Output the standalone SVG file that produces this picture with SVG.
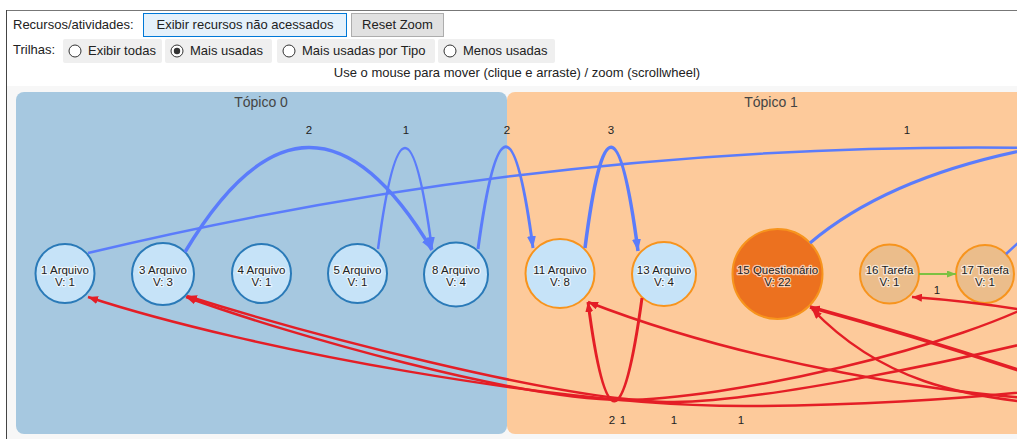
<svg xmlns="http://www.w3.org/2000/svg" width="1017" height="439" viewBox="0 0 1017 439">
<defs>
<style>
text{font-family:"Liberation Sans",Arial,sans-serif}
.ui{font-size:13px;fill:#222}
.btn1{fill:#e5f1fb;stroke:#0078d7;stroke-width:1}
.btn2{fill:#e1e1e1;stroke:#adadad;stroke-width:1}
.rbox{fill:#efefef}
.radio{fill:#fff;stroke:#333;stroke-width:1}
.title{font-size:14px;fill:#444;text-anchor:middle}
.n{stroke-width:2}
.t0{fill:#c6e3f8;stroke:#2a7ab8}
.t1{fill:#c6e3f8;stroke:#f7941d}
.q{fill:#ec711f;stroke:#f7941d}
.ta{fill:#ebbd8b;stroke:#f7941d}
.nl{font-size:11.5px;fill:#222;text-anchor:middle;stroke:#fff;stroke-width:2.5;stroke-opacity:.65;paint-order:stroke;stroke-linejoin:round}
.el{font-size:11.5px;fill:#222;text-anchor:middle}
.b{fill:none;stroke:#5b7cfb}
.r{fill:none;stroke:#e41e26}
.g{fill:none;stroke:#7cc142;stroke-width:2}
</style>
<marker id="ab" viewBox="0 0 12 9" refX="12" refY="4.5" markerWidth="12" markerHeight="9" markerUnits="userSpaceOnUse" orient="auto"><path d="M0,0L12,4.5L0,9z" fill="#5b7cfb"/></marker>
<marker id="ar" viewBox="0 0 10 8" refX="10" refY="4" markerWidth="10" markerHeight="8" markerUnits="userSpaceOnUse" orient="auto"><path d="M0,0L10,4L0,8z" fill="#e41e26"/></marker>
<marker id="ag" viewBox="0 0 9 7" refX="9" refY="3.5" markerWidth="9" markerHeight="7" markerUnits="userSpaceOnUse" orient="auto"><path d="M0,0L9,3.5L0,7z" fill="#7cc142"/></marker>
</defs>
<rect x="0" y="0" width="1017" height="439" fill="#fff"/>
<rect x="6" y="86" width="1011" height="353" fill="#f7f7f7"/>
<line x1="6" y1="10.5" x2="1017" y2="10.5" stroke="#777" stroke-width="1"/>
<line x1="6.5" y1="10" x2="6.5" y2="439" stroke="#444" stroke-width="1"/>
<g id="controls">
<text class="ui" x="13" y="29">Recursos/atividades:</text>
<rect class="btn1" x="143.5" y="13.5" width="203" height="23"/>
<text class="ui" x="245" y="29" text-anchor="middle">Exibir recursos não acessados</text>
<rect class="btn2" x="351.5" y="13.5" width="92" height="23"/>
<text class="ui" x="397.5" y="29" text-anchor="middle">Reset Zoom</text>
<text class="ui" x="13" y="54">Trilhas:</text>
<rect class="rbox" x="63" y="39" width="99" height="24" rx="2"/>
<rect class="rbox" x="165" y="39" width="107" height="24" rx="2"/>
<rect class="rbox" x="277" y="39" width="158" height="24" rx="2"/>
<rect class="rbox" x="438" y="39" width="117" height="24" rx="2"/>
<circle class="radio" cx="75" cy="51" r="6"/>
<circle class="radio" cx="177" cy="51" r="6"/>
<circle cx="177" cy="51" r="3.2" fill="#333"/>
<circle class="radio" cx="289" cy="51" r="6"/>
<circle class="radio" cx="450" cy="51" r="6"/>
<text class="ui" x="88" y="55">Exibir todas</text>
<text class="ui" x="190" y="55">Mais usadas</text>
<text class="ui" x="302" y="55">Mais usadas por Tipo</text>
<text class="ui" x="463" y="55">Menos usadas</text>
<text class="ui" x="517" y="77" text-anchor="middle">Use o mouse para mover (clique e arraste) / zoom (scrollwheel)</text>
</g>
<g id="topico0">
<rect x="16" y="92" width="491" height="342" rx="8" fill="#a6c8e0"/>
<text class="title" x="261" y="107">Tópico 0</text>
</g>
<g id="topico1">
<rect x="507" y="92" width="540" height="342" rx="8" fill="#fdca9b"/>
<text class="title" x="771" y="107">Tópico 1</text>
</g>
<g id="n1"><circle class="n t0" cx="65" cy="273.5" r="29.5"/><text class="nl" x="65" y="274">1 Arquivo</text><text class="nl" x="65" y="286">V: 1</text></g>
<g id="n3"><circle class="n t0" cx="163" cy="274" r="31"/><text class="nl" x="163" y="274">3 Arquivo</text><text class="nl" x="163" y="286">V: 3</text></g>
<g id="n4"><circle class="n t0" cx="261.5" cy="273.5" r="29.5"/><text class="nl" x="261.5" y="274">4 Arquivo</text><text class="nl" x="261.5" y="286">V: 1</text></g>
<g id="n5"><circle class="n t0" cx="357.5" cy="273.5" r="29.5"/><text class="nl" x="357.5" y="274">5 Arquivo</text><text class="nl" x="357.5" y="286">V: 1</text></g>
<g id="n8"><circle class="n t0" cx="456" cy="274.5" r="32"/><text class="nl" x="456" y="274">8 Arquivo</text><text class="nl" x="456" y="286">V: 4</text></g>
<g id="n11"><circle class="n t1" cx="560" cy="273.5" r="34.5"/><text class="nl" x="560" y="274">11 Arquivo</text><text class="nl" x="560" y="286">V: 8</text></g>
<g id="n13"><circle class="n t1" cx="664" cy="274" r="32"/><text class="nl" x="664" y="274">13 Arquivo</text><text class="nl" x="664" y="286">V: 4</text></g>
<g id="n15"><circle class="n q" cx="777.5" cy="274" r="45"/><text class="nl" x="777.5" y="274">15 Questionário</text><text class="nl" x="777.5" y="286">V: 22</text></g>
<g id="n16"><circle class="n ta" cx="889.5" cy="274" r="29.5"/><text class="nl" x="889.5" y="274">16 Tarefa</text><text class="nl" x="889.5" y="286">V: 1</text></g>
<g id="n17"><circle class="n ta" cx="985" cy="274" r="29"/><text class="nl" x="985" y="274">17 Tarefa</text><text class="nl" x="985" y="286">V: 1</text></g>
<g id="connectors">
<path class="b" stroke-width="2.5" d="M88,253 Q560,140 1040,148"/>
<path class="b" stroke-width="3" d="M810,243 Q890,175 1040,147"/>
<path class="b" stroke-width="2.5" d="M1006,254 L1030,232"/>
<path class="b" stroke-width="3.5" marker-end="url(#ab)" d="M185,252 Q309,44 432,250"/>
<path class="b" stroke-width="2.5" marker-end="url(#ab)" d="M378,249 Q405,47 432,249"/>
<path class="b" stroke-width="3" marker-end="url(#ab)" d="M478,249 Q506,45 533,248"/>
<path class="b" stroke-width="3.5" marker-end="url(#ab)" d="M585,248 Q611,45 638,251"/>
<path class="g" marker-end="url(#ag)" d="M919,274 L956,274"/>
<path class="r" stroke-width="2.5" marker-end="url(#ar)" d="M1060,290 C960,350 720,400 623,400 C520,400 290,335 186,297"/>
<path class="r" stroke-width="2.5" marker-end="url(#ar)" d="M1060,335 C960,360 760,402 674,402 C560,402 295,330 187,296"/>
<path class="r" stroke-width="2.5" marker-end="url(#ar)" d="M1060,388 C960,400 840,406 745,406 C560,406 250,350 88,297"/>
<path class="r" stroke-width="3" marker-end="url(#ar)" d="M642,298 Q614,502 588,302"/>
<path class="r" stroke-width="2.5" marker-end="url(#ar)" d="M1060,400 C950,395 750,365 588,302"/>
<path class="r" stroke-width="3.5" marker-end="url(#ar)" d="M1060,384 Q930,340 810,307"/>
<path class="r" stroke-width="2.5" marker-end="url(#ar)" d="M1060,405 C960,398 880,380 812,309"/>
<path class="r" stroke-width="2.5" marker-end="url(#ar)" d="M1040,313 Q980,302 912,297"/>
</g>
<g id="edge-labels">
<text class="el" x="309" y="134">2</text>
<text class="el" x="406" y="134">1</text>
<text class="el" x="507" y="134">2</text>
<text class="el" x="611" y="134">3</text>
<text class="el" x="907" y="134">1</text>
<text class="el" x="937" y="294">1</text>
<text class="el" x="612" y="424">2</text>
<text class="el" x="623" y="424">1</text>
<text class="el" x="674" y="424">1</text>
<text class="el" x="741" y="424">1</text>
</g>
</svg>
